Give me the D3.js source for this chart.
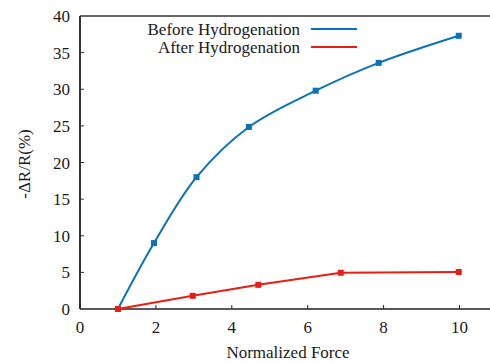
<!DOCTYPE html>
<html><head><meta charset="utf-8">
<script src="https://cdn.jsdelivr.net/npm/d3@7"></script>
</head><body style="margin:0">
<svg id="c" width="490" height="363"></svg>
<script>
const beforeX = [1, 1.95, 3.07, 4.45, 6.21, 7.87, 9.98];
const beforeY = [0, 9.0, 18.0, 24.85, 29.8, 33.6, 37.3];
const afterX = [1, 2.97, 4.7, 6.87, 9.98];
const afterY = [0, 1.8, 3.3, 4.95, 5.05];
const xTicks = [0, 2, 4, 6, 8, 10];
const yTicks = [0, 5, 10, 15, 20, 25, 30, 35, 40];
const seriesNames = ["Before Hydrogenation", "After Hydrogenation"];
const colors = ["#0a72b8", "#e61e14"];

const svg = d3.select("#c");
const FS = 17;
const L = 80, T = 16, B = 309;
const x = d3.scaleLinear().domain([0, 10]).range([L, 459.5]);
const y = d3.scaleLinear().domain([0, 40]).range([B, T]);
const R = 492;

function txt(sel) { return sel.attr("font-size", FS).style("font-family", "Liberation Serif").attr("fill", "#1a1a1a"); }

svg.append("line").attr("x1", L).attr("x2", R).attr("y1", T).attr("y2", T)
  .attr("stroke", "#333").attr("stroke-width", 1.5);

const gx = svg.append("g").attr("transform", `translate(0,${B})`);
gx.append("line").attr("x1", L).attr("x2", R).attr("stroke", "#222").attr("stroke-width", 1.5);
gx.selectAll("line.t").data(xTicks.slice(1)).join("line").attr("class", "t")
  .attr("x1", d => x(d)).attr("x2", d => x(d)).attr("y1", 0).attr("y2", -4)
  .attr("stroke", "#222").attr("stroke-width", 1);
txt(gx.selectAll("text").data(xTicks).join("text")
  .attr("x", d => x(d)).attr("y", 24).attr("text-anchor", "middle")).text(d => d);

const gy = svg.append("g");
gy.append("line").attr("x1", L).attr("x2", L).attr("y1", T).attr("y2", B)
  .attr("stroke", "#333").attr("stroke-width", 2);
gy.selectAll("line.t").data(yTicks.slice(1, -1)).join("line").attr("class", "t")
  .attr("x1", L).attr("x2", L + 4).attr("y1", d => y(d)).attr("y2", d => y(d))
  .attr("stroke", "#333").attr("stroke-width", 1);
txt(gy.selectAll("text").data(yTicks).join("text")
  .attr("x", 70).attr("y", d => y(d) + 6).attr("text-anchor", "end")).text(d => d);

txt(svg.append("text").attr("x", 288).attr("y", 358).attr("text-anchor", "middle")).text("Normalized Force");
txt(svg.append("text").attr("transform", "translate(30,164) rotate(-90)")
  .attr("text-anchor", "middle")).text("-ΔR/R(%)");

const bData = beforeX.map((v, i) => [v, beforeY[i]]);
const aData = afterX.map((v, i) => [v, afterY[i]]);
svg.append("path").datum(bData)
  .attr("d", d3.line().x(d => x(d[0])).y(d => y(d[1])).curve(d3.curveCatmullRom.alpha(0.5)))
  .attr("fill", "none").attr("stroke", colors[0]).attr("stroke-width", 2);
svg.append("path").datum(aData)
  .attr("d", d3.line().x(d => x(d[0])).y(d => y(d[1])))
  .attr("fill", "none").attr("stroke", colors[1]).attr("stroke-width", 2);
const ms = 6;
svg.selectAll("rect.b").data(bData).join("rect").attr("class", "b")
  .attr("x", d => x(d[0]) - ms / 2).attr("y", d => y(d[1]) - ms / 2)
  .attr("width", ms).attr("height", ms).attr("fill", colors[0]);
svg.selectAll("rect.a").data(aData).join("rect").attr("class", "a")
  .attr("x", d => x(d[0]) - ms / 2).attr("y", d => y(d[1]) - ms / 2)
  .attr("width", ms).attr("height", ms).attr("fill", colors[1]);

const lg = svg.append("g");
seriesNames.forEach((n, i) => {
  const yy = 29 + i * 18;
  txt(lg.append("text").attr("x", 300).attr("y", yy + 6).attr("text-anchor", "end")).text(n);
  lg.append("line").attr("x1", 311).attr("x2", 357).attr("y1", yy).attr("y2", yy)
    .attr("stroke", colors[i]).attr("stroke-width", 2);
});
</script>
</body></html>
